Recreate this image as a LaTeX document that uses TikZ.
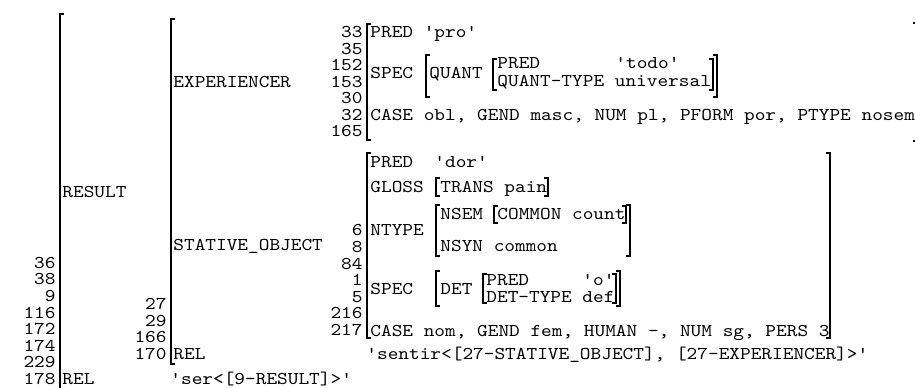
\documentclass[tikz,border=0pt]{standalone}
\usepackage{fontspec}
\setmonofont{lmmono10-regular.otf}[FakeStretch=1.13]
\usepackage{tikz}

\tikzset{
  txt/.style={font=\ttfamily\fontsize{9}{11}\selectfont, inner sep=0pt, anchor=base west, yshift=-2.75pt},
  num/.style={txt, anchor=base east},
  brk/.style={line width=1pt}
}

\begin{document}
\begin{tikzpicture} [x=0.5pt, y=-0.5pt]
\useasboundingbox (0,0) rectangle (915,387);

% outer f-structure
\draw [brk] (64,14) -- (60,14) -- (60,395);
\node [num] (n36) at (56,262.8) {36};
\node [num] (n38) at (56,279.4) {38};
\node [num] (n9) at (56,296) {9};
\node [num] (n116) at (56,312.6) {116};
\node [num] (n172) at (56,329.2) {172};
\node [num] (n174) at (56,345.8) {174};
\node [num] (n229) at (56,362.4) {229};
\node [num] (n178) at (56,379) {178};
\node [txt] (result) at (62,192) {RESULT};
\node [txt] (rel) at (62,379) {REL};
\node [txt] (ser) at (170,379) {'ser<[9-RESULT]>'};

% RESULT value
\draw [brk] (175,19) -- (171,19) -- (171,364) -- (175,364);
\node [num] (n27) at (167,304.2) {27};
\node [num] (n29) at (167,320.8) {29};
\node [num] (n166) at (167,337.4) {166};
\node [num] (n170) at (167,354) {170};
\node [txt] (exp) at (173,82) {EXPERIENCER};
\node [txt] (stat) at (173,245) {STATIVE\_OBJECT};
\node [txt] (relb) at (173,354) {REL};
\node [txt] (sentir) at (366,354) {'sentir<[27-STATIVE\_OBJECT], [27-EXPERIENCER]>'};

% EXPERIENCER value
\draw [brk] (371,24) -- (367,24) -- (367,140) -- (371,140);
\draw [brk] (913,23) -- (917,23) -- (917,141) -- (913,141);
\node [num] (n33) at (363,32) {33};
\node [num] (n35) at (363,48.5) {35};
\node [num] (n152) at (363,65) {152};
\node [num] (n153) at (363,81.5) {153};
\node [num] (n30) at (363,98) {30};
\node [num] (n32) at (363,114.5) {32};
\node [num] (n165) at (363,131) {165};
\node [txt] (predpro) at (370,32) {PRED 'pro'};
\node [txt] (speca) at (370,73) {SPEC};
\draw [brk] (430,55) -- (426,55) -- (426,97) -- (430,97);
\node [txt] (quant) at (429,73) {QUANT};
\draw [brk] (497,59) -- (493,59) -- (493,90) -- (497,90);
\node [txt] (predq) at (497,63) {PRED};
\node [txt] (todo) at (615,63) {'todo'};
\node [txt] (qtype) at (497,81) {QUANT-TYPE universal};
\draw [brk] (709,59) -- (713,59) -- (713,90) -- (709,90);
\draw [brk] (713,55) -- (717,55) -- (717,97) -- (713,97);
\node [txt] (casea) at (370,114.5) {CASE obl, GEND masc, NUM pl, PFORM por, PTYPE nosem};

% STATIVE_OBJECT value
\draw [brk] (371,153) -- (367,153) -- (367,338) -- (371,338);
\draw [brk] (826,153) -- (830,153) -- (830,338) -- (826,338);
\node [num] (n6) at (363,230.4) {6};
\node [num] (n8) at (363,247) {8};
\node [num] (n84) at (363,263.6) {84};
\node [num] (n1) at (363,280.2) {1};
\node [num] (n5) at (363,296.8) {5};
\node [num] (n216) at (363,313.4) {216};
\node [num] (n217) at (363,330) {217};
\node [txt] (predd) at (370,162) {PRED};
\node [txt] (dor) at (434,162) {'dor'};
\node [txt] (gloss) at (370,187) {GLOSS};
\draw [brk] (440,178) -- (436,178) -- (436,196) -- (440,196);
\node [txt] (trans) at (440,187) {TRANS pain};
\draw [brk] (544,178) -- (548,178) -- (548,196) -- (544,196);
\node [txt] (ntype) at (370,230) {NTYPE};
\draw [brk] (440,205) -- (436,205) -- (436,256) -- (440,256);
\node [txt] (nsem) at (440,214) {NSEM};
\draw [brk] (498,206) -- (494,206) -- (494,223) -- (498,223);
\node [txt] (common) at (497,214) {COMMON count};
\draw [brk] (622,206) -- (626,206) -- (626,223) -- (622,223);
\draw [brk] (626,205) -- (630,205) -- (630,256) -- (626,256);
\node [txt] (nsyn) at (440,246) {NSYN common};
\node [txt] (specb) at (370,288.5) {SPEC};
\draw [brk] (440,271) -- (436,271) -- (436,306) -- (440,306);
\node [txt] (det) at (440,288.5) {DET};
\draw [brk] (487,274) -- (483,274) -- (483,303) -- (487,303);
\node [txt] (predo) at (486,280) {PRED};
\node [txt] (o) at (582,280) {'o'};
\node [txt] (dtype) at (486,297) {DET-TYPE def};
\draw [brk] (612,274) -- (616,274) -- (616,303) -- (612,303);
\draw [brk] (616,271) -- (620,271) -- (620,306) -- (616,306);
\node [txt] (caseb) at (370,331) {CASE nom, GEND fem, HUMAN -, NUM sg, PERS 3};

\end{tikzpicture}
\end{document}
